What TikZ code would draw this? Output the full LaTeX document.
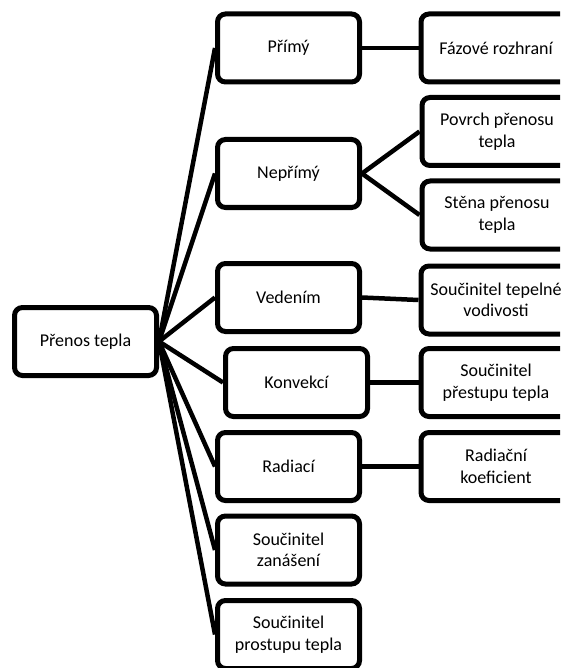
\documentclass[tikz,border=0pt]{standalone}
\usepackage{fontspec}
\setmainfont{Carlito}
\begin{document}
\begin{tikzpicture}[x=1pt,y=1pt,
  box/.style={draw=black, line width=5pt, rounded corners=8pt, fill=white,
    minimum width=142pt, minimum height=68pt, align=center,
    font=\fontsize{18}{21.5}\selectfont, inner sep=1pt},
  rbox/.style={box, minimum width=150pt},
  conn/.style={line width=4.5pt}]
\useasboundingbox (0,0) rectangle (560,-668);
\clip (0,0) rectangle (560,-668);
% nodes
\node[box] (root) at (85.5,-341.5) {Přenos tepla};
\node[box] (primy) at (288.5,-48) {Přímý};
\node[rbox] (faz) at (496,-48) {Fázové rozhraní};
\node[box] (neprimy) at (288.5,-173.5) {Nepřímý};
\node[rbox] (povrch) at (497,-131.5) {Povrch přenosu\\tepla};
\node[rbox] (stena) at (497,-215) {Stěna přenosu\\tepla};
\node[box] (vedenim) at (288.5,-297.5) {Vedením};
\node[rbox] (tepelne) at (496,-300) {Součinitel tepelné\\vodivosti};
\node[box] (konvekci) at (296.5,-382.5) {Konvekcí};
\node[rbox] (prestupu) at (496,-382.5) {Součinitel\\přestupu tepla};
\node[box] (radiaci) at (288.5,-466.5) {Radiací};
\node[rbox] (radkoef) at (496,-466.5) {Radiační\\koeficient};
\node[box] (zanaseni) at (288.5,-550) {Součinitel\\zanášení};
\node[box] (prostupu) at (288.5,-634.5) {Součinitel\\prostupu tepla};
% connectors
\foreach \n in {primy,neprimy,vedenim,konvekci,radiaci,zanaseni,prostupu}
  \draw[conn] (root.east) -- (\n.west);
\draw[conn] (primy.east) -- (faz.west);
\draw[conn] (neprimy.east) -- (povrch.west);
\draw[conn] (neprimy.east) -- (stena.west);
\draw[conn] (vedenim.east) -- (tepelne.west);
\draw[conn] (konvekci.east) -- (prestupu.west);
\draw[conn] (radiaci.east) -- (radkoef.west);
\end{tikzpicture}
\end{document}
